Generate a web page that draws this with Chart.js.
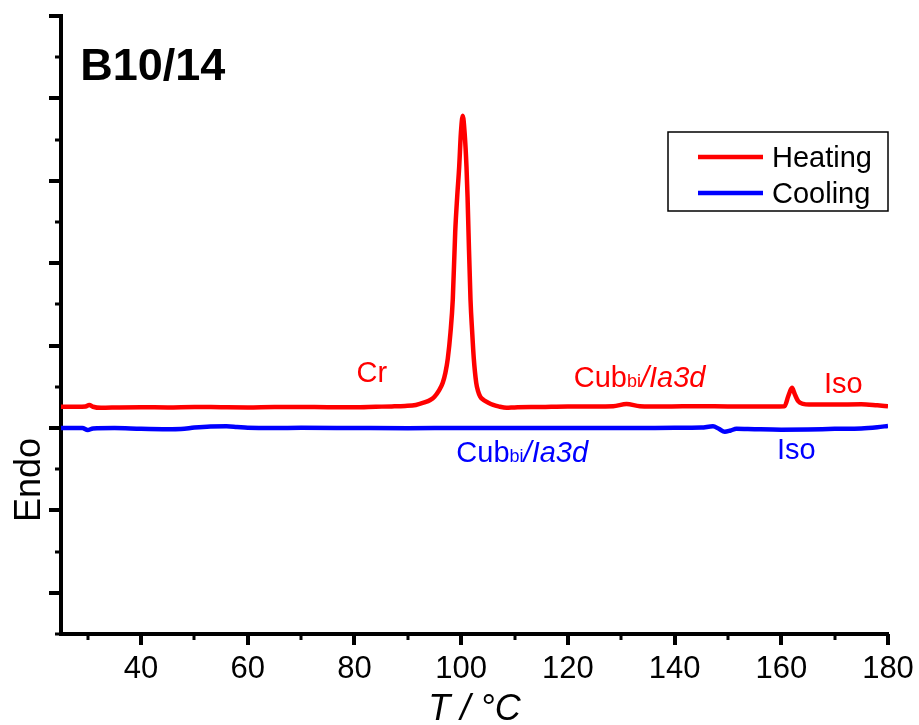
<!DOCTYPE html>
<html>
<head>
<meta charset="utf-8">
<script src="https://cdn.jsdelivr.net/npm/chart.js@4.4.0/dist/chart.umd.min.js"></script>
<style>
  body { margin: 0; background: #fff; }
  #wrap { width: 919px; height: 725px; position: relative; }
</style>
</head>
<body>
<div id="wrap"><canvas id="myChart"></canvas></div>
<script>
// DSC traces, T in °C, signal in arbitrary units (endo down)
let heatT = [25, 28, 29.6, 30.3, 31.0, 32.5, 36, 40, 45, 50, 55, 60, 65, 70, 75, 80, 84, 87, 89.5, 91.5,
  93.1, 94.2, 95.0, 95.8, 96.55, 97.05, 97.49, 98.0, 98.43, 98.88, 99.25, 99.63, 99.95, 100.3, 100.65,
  101.0, 101.2, 101.38, 101.75, 102.07, 102.37, 102.82, 103.15, 103.57, 104.2, 105.0, 106.0, 107.0, 108.5,
  110, 115, 120, 125, 128.5, 131, 133.5, 138, 145, 150, 155, 158.5, 160.6, 161.3, 162.0, 162.55, 163.17,
  164.1, 165.2, 167, 170, 175, 178, 180];
let heatY = [2.257, 2.257, 2.262, 2.28, 2.258, 2.245, 2.25, 2.252, 2.25, 2.255, 2.252, 2.25, 2.255, 2.255, 2.252, 2.252, 2.258, 2.262, 2.268, 2.28,
  2.31, 2.34, 2.38, 2.45, 2.55, 2.67, 2.84, 3.16, 3.56, 4.37, 4.8, 5.17, 5.58, 5.79, 5.58,
  5.17, 4.8, 4.37, 3.56, 3.16, 2.84, 2.55, 2.45, 2.38, 2.34, 2.31, 2.28, 2.262, 2.245,
  2.25, 2.255, 2.262, 2.262, 2.265, 2.29, 2.265, 2.26, 2.265, 2.262, 2.262, 2.262, 2.264, 2.385, 2.487, 2.406, 2.325,
  2.293, 2.285, 2.285, 2.285, 2.288, 2.275, 2.264];

let coolT = [25, 29, 30, 31, 35, 40, 45, 47.5, 50, 53, 56, 58, 60, 65, 70, 80, 90, 100, 110, 120, 130, 140,
  145, 147.2, 148.3, 149.4, 150.5, 151.6, 155, 160, 165, 170, 175, 178, 180];
let coolY = [2.0, 2.0, 1.975, 1.995, 2.0, 1.99, 1.985, 1.987, 2.005, 2.018, 2.02, 2.012, 2.003, 2.0, 2.002, 2.0, 1.998, 2.0, 2.0, 2.0, 2.0, 2.002,
  2.005, 2.02, 1.99, 1.955, 1.97, 1.99, 1.985, 1.98, 1.982, 1.99, 1.995, 2.01, 2.025];

let xTicks = [30, 40, 50, 60, 70, 80, 90, 100, 110, 120, 130, 140, 150, 160, 170, 180];
let xTickLabels = [40, 60, 80, 100, 120, 140, 160, 180];
let yTicks = [-0.5, 0, 0.5, 1, 1.5, 2, 2.5, 3, 3.5, 4, 4.5, 5, 5.5, 6, 6.5, 7];

// phase labels: text runs, position in data units (left edge, baseline)
let labelRuns = [
  [['Cr', 'n']],
  [['Cub', 'n'], ['bi', 's'], ['/Ia3d', 'i']],
  [['Iso', 'n']],
  [['Cub', 'n'], ['bi', 's'], ['/Ia3d', 'i']],
  [['Iso', 'n']]
];
let labelX = [80.4, 121.1, 168.0, 99.1, 159.2];
let labelY = [2.564, 2.503, 2.43, 1.582, 1.618];
let labelColor = ['#ff0000', '#ff0000', '#ff0000', '#0000ff', '#0000ff'];

const FONT = '"Liberation Sans", Arial, sans-serif';

function toPoints(xs, ys) {
  return xs.map((x, i) => ({ x: x, y: ys[i] }));
}

const extras = {
  id: 'extras',
  afterDraw(chart) {
    const ctx = chart.ctx;
    const xs = chart.scales.x, ys = chart.scales.y;
    const area = chart.chartArea;
    ctx.save();
    ctx.strokeStyle = '#000';
    ctx.lineCap = 'butt';
    // x ticks (outside, below)
    xTicks.forEach(v => {
      const px = Math.round(xs.getPixelForValue(v));
      const major = v % 20 === 0;
      ctx.lineWidth = major ? 4 : 3;
      ctx.beginPath();
      ctx.moveTo(px, area.bottom);
      ctx.lineTo(px, area.bottom + (major ? 11 : 6));
      ctx.stroke();
    });
    // y ticks (outside, left)
    yTicks.forEach(v => {
      const py = Math.round(ys.getPixelForValue(v));
      const major = Number.isInteger(v);
      ctx.lineWidth = major ? 4 : 3;
      ctx.beginPath();
      ctx.moveTo(area.left, py);
      ctx.lineTo(area.left - (major ? 12 : 6), py);
      ctx.stroke();
    });

    // y title
    ctx.save();
    ctx.fillStyle = '#000';
    ctx.font = '36px ' + FONT;
    ctx.textAlign = 'center';
    ctx.textBaseline = 'alphabetic';
    ctx.translate(40, ys.getPixelForValue(1.37));
    ctx.rotate(-Math.PI / 2);
    ctx.fillText('Endo', 0, 0);
    ctx.restore();

    // sample name
    ctx.fillStyle = '#000';
    ctx.font = 'bold 45px ' + FONT;
    ctx.textAlign = 'left';
    ctx.textBaseline = 'alphabetic';
    ctx.fillText('B10/14', xs.getPixelForValue(28.6), ys.getPixelForValue(6.22));

    // phase labels
    labelRuns.forEach((runs, i) => {
      let x = xs.getPixelForValue(labelX[i]);
      const y = ys.getPixelForValue(labelY[i]);
      ctx.fillStyle = labelColor[i];
      runs.forEach(r => {
        if (r[1] === 's') ctx.font = '18px ' + FONT;
        else if (r[1] === 'i') ctx.font = 'italic 29px ' + FONT;
        else ctx.font = '29px ' + FONT;
        ctx.fillText(r[0], x, y);
        x += ctx.measureText(r[0]).width;
      });
    });

    // legend box
    const bw = 220, bh = 79;
    const bx = area.right - bw, by = area.top + 116;
    ctx.strokeStyle = '#000';
    ctx.lineWidth = 1.5;
    ctx.strokeRect(bx, by, bw, bh);
    chart.data.datasets.forEach((ds, i) => {
      const ly = by + 25 + i * 36;
      ctx.strokeStyle = ds.borderColor;
      ctx.lineWidth = 4.5;
      ctx.beginPath();
      ctx.moveTo(bx + 30, ly);
      ctx.lineTo(bx + 95, ly);
      ctx.stroke();
      ctx.fillStyle = '#000';
      ctx.font = '29px ' + FONT;
      ctx.fillText(ds.label, bx + 104, ly + 10);
    });
    ctx.restore();
  }
};

let chartElement = document.getElementById('myChart').getContext('2d');

let myChart = new Chart(chartElement, {
  type: 'line',
  data: {
    datasets: [{
      label: 'Heating',
      data: toPoints(heatT, heatY),
      borderColor: '#ff0000',
      borderWidth: 4.5,
      pointRadius: 0,
      cubicInterpolationMode: 'monotone'
    }, {
      label: 'Cooling',
      data: toPoints(coolT, coolY),
      borderColor: '#0000ff',
      borderWidth: 4.5,
      pointRadius: 0,
      cubicInterpolationMode: 'monotone'
    }]
  },
  options: {
    responsive: true,
    maintainAspectRatio: false,
    animation: false,
    layout: { padding: { top: 16, right: 31, left: 0, bottom: 0 } },
    plugins: { legend: { display: false }, tooltip: { enabled: false } },
    scales: {
      x: {
        type: 'linear',
        min: 25,
        max: 180,
        grid: { display: false, drawTicks: false },
        border: { display: true, color: '#000', width: 4 },
        ticks: {
          stepSize: 10,
          autoSkip: false,
          maxRotation: 0,
          padding: 17,
          color: '#000',
          font: { family: FONT, size: 31 },
          callback: v => xTickLabels.includes(v) ? String(v) : ''
        },
        title: {
          display: true,
          text: 'T / °C',
          color: '#000',
          font: { family: FONT, size: 36, style: 'italic', lineHeight: 0.8 },
          padding: { top: 0, bottom: 1 }
        },
        afterFit: s => { s.height = 91; s.paddingLeft = 0; s.paddingRight = 0; }
      },
      y: {
        type: 'linear',
        min: -0.5,
        max: 7,
        grid: { display: false, drawTicks: false },
        border: { display: true, color: '#000', width: 4 },
        ticks: { display: false, stepSize: 0.5 },
        afterFit: s => { s.width = 61; s.paddingTop = 0; s.paddingBottom = 0; }
      }
    }
  },
  plugins: [extras]
});
</script>
</body>
</html>
